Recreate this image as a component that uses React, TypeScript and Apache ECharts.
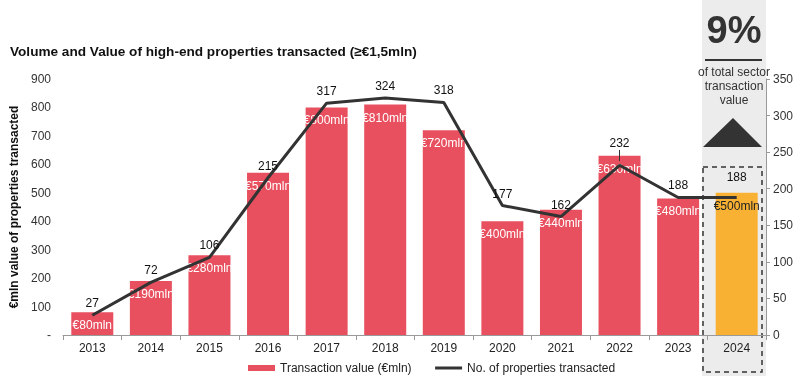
import React, { useEffect, useRef } from "react";
import * as echarts from "echarts";

const years = ["2013", "2014", "2015", "2016", "2017", "2018", "2019", "2020", "2021", "2022", "2023", "2024"];
const transactionValue = [80, 190, 280, 570, 800, 810, 720, 400, 440, 630, 480, 500];
const propertiesCount = [27, 72, 106, 215, 317, 324, 318, 177, 162, 232, 188, 188];
const highlightYear = "2024";
const leftTicks = { min: 0, max: 900, interval: 100 };
const rightTicks = { min: 0, max: 350, interval: 50 };
const shareText = "9%";
const shareCaption = ["of total sector", "transaction", "value"];

const FONT = "'Liberation Sans', Arial, sans-serif";
const RED = "#E8505F";
const YELLOW = "#F8B133";
const DARK = "#333333";

export default function App() {
  const ref = useRef<HTMLDivElement>(null);
  useEffect(() => {
    if (!ref.current) return;
    const chart = echarts.init(ref.current, null, { renderer: "svg" });
    const barData = transactionValue.map((v, i) => {
      const hi = years[i] === highlightYear;
      return {
        value: v,
        itemStyle: { color: hi ? YELLOW : RED },
        label: { color: hi ? "#222" : "#ffffff" },
      };
    });
    const lineData = propertiesCount.map((v, i) => {
      const y = years[i];
      if (y === "2022") return { value: v, label: { distance: 16 } };
      if (y === highlightYear) return { value: v, label: { distance: 14 } };
      return { value: v };
    });
    chart.setOption({
      animation: false,
      textStyle: { fontFamily: FONT },
      title: {
        text: "Volume and Value of high-end properties transacted (≥€1,5mln)",
        left: 10,
        top: 44,
        padding: 0,
        textStyle: { fontFamily: FONT, fontSize: 13.6, fontWeight: "bold", color: "#111" },
      },
      legend: {
        left: 243,
        top: 357,
        itemGap: 22,
        itemWidth: 27,
        itemHeight: 6,
        textStyle: { fontFamily: FONT, fontSize: 12, color: "#222" },
        data: [
          { name: "Transaction value (€mln)", icon: "rect" },
          {
            name: "No. of properties transacted",
            itemStyle: { color: "rgba(0,0,0,0)", borderWidth: 0 },
            lineStyle: { color: DARK, width: 3 },
          },
        ],
      },
      grid: { left: 63, right: 34, top: 79, bottom: 41, containLabel: false },
      xAxis: {
        type: "category",
        data: years,
        axisLine: { show: true, lineStyle: { color: "#999", width: 1 } },
        axisTick: { show: true, length: 5, lineStyle: { color: "#999" } },
        axisLabel: { margin: 7, fontSize: 12, color: "#222", fontFamily: FONT },
      },
      yAxis: [
        {
          type: "value",
          ...leftTicks,
          position: "left",
          name: "€mln value of properties transacted",
          nameLocation: "middle",
          nameRotate: 90,
          nameGap: 43,
          nameTextStyle: { fontFamily: FONT, fontSize: 12, fontWeight: "bold", color: "#111" },
          axisLine: { show: false },
          axisTick: { show: false },
          splitLine: { show: false },
          axisLabel: {
            margin: 12,
            fontSize: 12,
            color: "#333",
            fontFamily: FONT,
            formatter: (v: number) => (v === 0 ? "-" : String(v)),
          },
        },
        {
          type: "value",
          ...rightTicks,
          position: "right",
          axisLine: { show: true, lineStyle: { color: "#999" } },
          axisTick: { show: true, length: 4, lineStyle: { color: "#999" } },
          splitLine: { show: false },
          axisLabel: { margin: 7, fontSize: 12, color: "#333", fontFamily: FONT },
        },
      ],
      series: [
        {
          name: "Transaction value (€mln)",
          type: "bar",
          yAxisIndex: 0,
          barWidth: 42,
          itemStyle: { color: RED },
          data: barData,
          label: {
            show: true,
            position: "insideTop",
            distance: 7,
            fontSize: 12,
            fontFamily: FONT,
            formatter: (p: any) => `€${p.value}mln`,
          },
        },
        {
          name: "No. of properties transacted",
          type: "line",
          yAxisIndex: 1,
          data: lineData,
          symbol: "circle",
          symbolSize: 0,
          showSymbol: true,
          lineStyle: { color: DARK, width: 3 },
          itemStyle: { color: DARK },
          label: {
            show: true,
            position: "top",
            distance: 6,
            fontSize: 12,
            color: "#111",
            fontFamily: FONT,
          },
          markLine: {
            silent: true,
            symbol: "none",
            label: { show: false },
            lineStyle: { color: DARK, width: 1, type: "solid" },
            data: [[{ coord: ["2022", 238] }, { coord: ["2022", 253] }]],
          },
        },
      ],
      graphic: [
        {
          type: "rect",
          z: -5,
          shape: { x: 702, y: 0, width: 64, height: 376 },
          style: { fill: "#ECECEC" },
        },
        {
          type: "text",
          x: 734,
          y: 30,
          style: {
            text: shareText,
            fontFamily: FONT,
            fontSize: 38,
            fontWeight: "bold",
            fill: DARK,
            align: "center",
            verticalAlign: "middle",
          },
        },
        {
          type: "line",
          shape: { x1: 705, y1: 60, x2: 762, y2: 60 },
          style: { stroke: DARK, lineWidth: 2 },
        },
        {
          type: "text",
          x: 734,
          y: 86,
          style: {
            text: shareCaption.join("\n"),
            fontFamily: FONT,
            fontSize: 12,
            lineHeight: 14,
            fill: DARK,
            align: "center",
            verticalAlign: "middle",
          },
        },
        {
          type: "polygon",
          shape: { points: [[703, 147], [762, 147], [733, 118]] },
          style: { fill: DARK },
        },
        {
          type: "rect",
          shape: { x: 703, y: 167, width: 59, height: 205 },
          style: { fill: "none", stroke: DARK, lineWidth: 1.5, lineDash: [5, 4] },
        },
      ],
    });
    return () => chart.dispose();
  }, []);
  return (
    <div
      ref={ref}
      style={{ position: "fixed", left: 0, top: 0, width: 800, height: 376, overflow: "hidden" }}
    />
  );
}
